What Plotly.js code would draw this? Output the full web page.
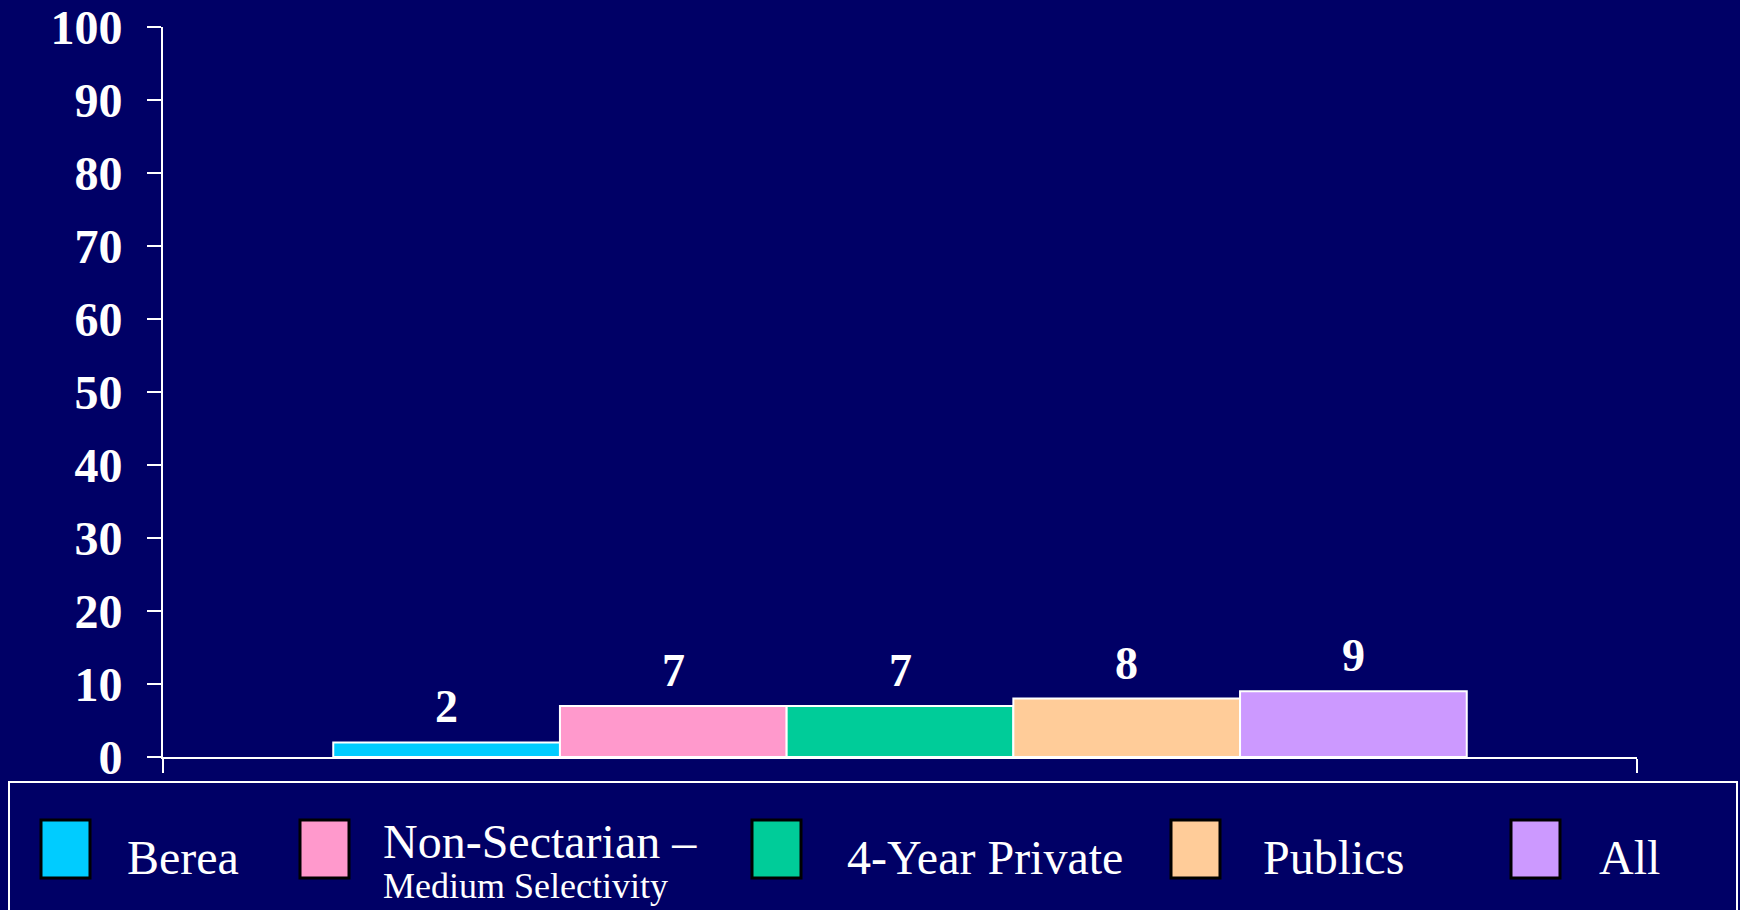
<!DOCTYPE html>
<html><head><meta charset="utf-8">
<script src="https://cdn.plot.ly/plotly-3.0.1.min.js"></script>
<style>html,body{margin:0;padding:0;background:#000066;overflow:hidden;}</style>
</head><body><div id="chart" style="width:1740px;height:910px;"></div>
<script>
// ---- data ----
const category = ['Percent'];
const seriesNames = ['Berea', 'Non-Sectarian –', '4-Year Private', 'Publics', 'All'];
const seriesSubtitles = ['', 'Medium Selectivity', '', '', ''];
const values = [2, 7, 7, 8, 9];
const colors = ['#00CCFF', '#FF99CC', '#00CC99', '#FFCC99', '#CC99FF'];

// ---- layout constants ----
const W = 1740, H = 910;
const M = {l: 163, r: 103, t: 27, b: 153};
const plotW = W - M.l - M.r, plotH = H - M.t - M.b;
const px = x => (x - M.l) / plotW;
const py = y => (H - M.b - y) / plotH;
const BARGAP = 0.231;
const serif = 'Liberation Serif, Times New Roman, serif';
const swatchX = [41, 300, 752, 1171, 1511];
const textX = [125, 381, 845, 1261, 1597];

const traces = seriesNames.map((name, i) => ({
  type: 'bar',
  name: name,
  x: category,
  y: [values[i]],
  marker: {color: colors[i], line: {color: '#FFFFFF', width: 2}},
  hoverinfo: 'skip'
}));

const groupW = 1 - BARGAP, barW = groupW / seriesNames.length;
const annotations = [];
values.forEach((v, i) => {
  annotations.push({
    xref: 'x', yref: 'y',
    x: -groupW / 2 + (i + 0.5) * barW, y: v,
    text: String(v), showarrow: false,
    xanchor: 'center', yanchor: 'bottom', yshift: 8,
    font: {family: serif, size: 46, color: '#FFFFFF', weight: 'bold'}
  });
});

const shapes = [{
  type: 'rect', xref: 'paper', yref: 'paper',
  x0: px(9), x1: px(1737), y0: py(782), y1: py(925),
  line: {color: '#FFFFFF', width: 2}, fillcolor: 'rgba(0,0,0,0)'
}];
seriesNames.forEach((name, i) => {
  shapes.push({
    type: 'rect', xref: 'paper', yref: 'paper',
    x0: px(swatchX[i]), x1: px(swatchX[i] + 49), y0: py(820), y1: py(878),
    line: {color: '#000000', width: 3}, fillcolor: colors[i]
  });
  annotations.push({
    xref: 'paper', yref: 'paper', x: px(textX[i]), y: py(857),
    text: name, showarrow: false, xanchor: 'left', yanchor: 'middle',
    font: {family: serif, size: 48, color: '#FFFFFF'}
  });
  if (seriesSubtitles[i]) {
    annotations[annotations.length - 1].y = py(841);
    annotations.push({
      xref: 'paper', yref: 'paper', x: px(textX[i]), y: py(886),
      text: seriesSubtitles[i], showarrow: false, xanchor: 'left', yanchor: 'middle',
      font: {family: serif, size: 36, color: '#FFFFFF'}
    });
  }
});

const layout = {
  width: W, height: H,
  margin: M,
  paper_bgcolor: '#000066', plot_bgcolor: '#000066',
  barmode: 'group', bargap: BARGAP, bargroupgap: 0,
  showlegend: false,
  xaxis: {
    type: 'category', showline: true, linecolor: '#FFFFFF', linewidth: 2,
    ticks: 'outside', tickson: 'boundaries', ticklen: 14, tickwidth: 2, tickcolor: '#FFFFFF',
    showticklabels: false, showgrid: false, zeroline: false, fixedrange: true
  },
  yaxis: {
    range: [0, 100], dtick: 10, showline: true, linecolor: '#FFFFFF', linewidth: 2,
    ticks: 'outside', ticklen: 14, tickwidth: 2, tickcolor: '#FFFFFF',
    ticklabelstandoff: 15,
    tickfont: {family: serif, size: 48, color: '#FFFFFF', weight: 'bold'},
    showgrid: false, zeroline: false, fixedrange: true
  },
  annotations: annotations,
  shapes: shapes
};

Plotly.newPlot('chart', traces, layout, {displayModeBar: false, staticPlot: true});
</script>
</body></html>
